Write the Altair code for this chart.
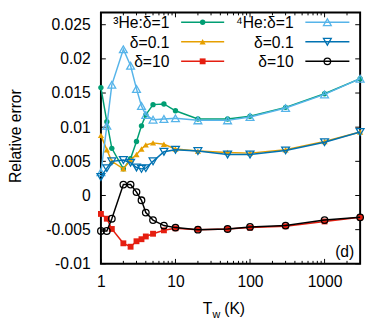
import altair as alt
import pandas as pd

# ---- data ----
T_w = [1, 1.2, 1.4, 2, 2.5, 3, 3.5, 4, 5, 7, 10, 20, 50, 100, 300, 1000, 3000]
he3_d1 = [0.0158, 0.0108, 0.0069, 0.0039, 0.0054, 0.0079, 0.0102, 0.0118, 0.0133, 0.0134,
          0.0124, 0.0112, 0.0112, 0.0116, 0.0129, 0.0149, 0.0171]
he3_d01 = [0.0088, 0.0067, 0.0050, 0.0039, 0.0052, 0.0060, 0.0068, 0.0074, 0.0077, 0.0075,
           0.0068, 0.0065, 0.0063, 0.0062, 0.0067, 0.0079, 0.0093]
he3_d10 = [-0.0027, -0.0034, -0.0049, -0.0070, -0.0075, -0.0067, -0.0064, -0.0060, -0.0056, -0.0051,
           -0.0048, -0.0050, -0.0049, -0.0047, -0.0045, -0.0038, -0.0032]
he4_d1 = [0.0034, 0.0102, 0.0162, 0.0214, 0.0190, 0.0156, 0.0131, 0.0118, 0.0111, 0.0112,
          0.0113, 0.0110, 0.0110, 0.0115, 0.0128, 0.0148, 0.0171]
he4_d01 = [0.0027, 0.0040, 0.0050, 0.0052, 0.0048, 0.0041, 0.0039, 0.0040, 0.0050, 0.0064,
           0.0067, 0.0065, 0.0060, 0.0060, 0.0066, 0.0078, 0.0093]
he4_d10 = [-0.0052, -0.0052, -0.0034, 0.0016, 0.0016, 0.0005, -0.0007, -0.0025, -0.0036, -0.0044,
           -0.0047, -0.0050, -0.0049, -0.0046, -0.0044, -0.0036, -0.0032]

legend_labels = ["\u00b3He:\u03b4=1", "\u03b4=0.1", "\u03b4=10",
                 "\u2074He:\u03b4=1", "\u03b4=0.1", "\u03b4=10"]
x_ticks = [1, 10, 100, 1000]
x_minor = [m * d for d in [1, 10, 100, 1000] for m in range(2, 10) if m * d < 3000]
y_ticks = [-0.01, -0.005, 0, 0.005, 0.01, 0.015, 0.02, 0.025]

FONT = "Liberation Sans"
W, H = 265, 257

series = [
    (he3_d1, "#009e73", "circle", True, 30),
    (he3_d01, "#e69f00", "triangle-up", True, 40),
    (he3_d10, "#e51e10", "square", True, 36),
    (he4_d1, "#56b4e9", "triangle-up", False, 64),
    (he4_d01, "#0072b2", "triangle-down", False, 64),
    (he4_d10, "black", "circle", False, 45),
]

xs = alt.Scale(type="log", domain=[1, 3000], nice=False)
ys = alt.Scale(domain=[-0.01, 0.0268], nice=False, zero=False)
xaxis = alt.Axis(values=x_ticks, title="", labelExpr="format(datum.value, '~g')",
                 ticks=False, domain=False, grid=False, labelFlush=False,
                 labelFont=FONT, labelFontSize=16, labelColor="black", labelPadding=10,
                 labelOverlap=False)
yaxis = alt.Axis(values=y_ticks, title="Relative error",
                 labelExpr="datum.value < 0 ? '-' + format(-datum.value, '~g') : format(datum.value, '~g')",
                 ticks=False, domain=False, grid=False,
                 labelFont=FONT, labelFontSize=16, labelColor="black", labelPadding=11,
                 titleFont=FONT, titleFontSize=16, titleFontWeight="normal", titleColor="black",
                 titleAngle=270, titleX=-82, titleY=126, titleAlign="center",
                 titleBaseline="alphabetic")

layers = []
# tick marks (inward, mirrored)
xt = pd.DataFrame({"T": x_ticks})
xm = pd.DataFrame({"T": x_minor})
yt = pd.DataFrame({"v": y_ticks})
X = lambda: alt.X("T:Q", scale=xs, axis=xaxis)
Y = lambda: alt.Y("v:Q", scale=ys, axis=yaxis)
for df, ln in [(xt, 5), (xm, 3)]:
    layers.append(alt.Chart(df).mark_rule(color="black", strokeWidth=1).encode(
        x=X(), y=alt.value(H), y2=alt.value(H - ln)))
    layers.append(alt.Chart(df).mark_rule(color="black", strokeWidth=1).encode(
        x=X(), y=alt.value(0), y2=alt.value(ln)))
layers.append(alt.Chart(yt).mark_rule(color="black", strokeWidth=1).encode(
    y=Y(), x=alt.value(0), x2=alt.value(5)))
layers.append(alt.Chart(yt).mark_rule(color="black", strokeWidth=1).encode(
    y=Y(), x=alt.value(W - 5), x2=alt.value(W)))

for vals, col, shape, filled, size in series:
    df = pd.DataFrame({"T": T_w, "v": vals})
    layers.append(alt.Chart(df).mark_line(color=col, strokeWidth=1.5).encode(x=X(), y=Y()))
    layers.append(alt.Chart(df).mark_point(shape=shape, filled=filled, color=col, size=size,
                                           strokeWidth=1.3, opacity=1).encode(x=X(), y=Y()))

# legend (two columns, label right-aligned, then line sample with marker)
one = pd.DataFrame({"a": [0]})
rows_y = [10, 30, 50]
cols = [(70, 82, 126), (197, 209, 254)]
for i, (vals, col, shape, filled, size) in enumerate(series):
    c = i // 3
    r = i % 3
    tx, l1, l2 = cols[c]
    yy = rows_y[r]
    layers.append(alt.Chart(one).mark_text(align="right", baseline="middle", font=FONT,
                                           fontSize=16, color="black").encode(
        x=alt.value(tx), y=alt.value(yy + 1), text=alt.value(legend_labels[i])))
    layers.append(alt.Chart(one).mark_rule(color=col, strokeWidth=1.5).encode(
        x=alt.value(l1), x2=alt.value(l2), y=alt.value(yy)))
    layers.append(alt.Chart(one).mark_point(shape=shape, filled=filled, color=col, size=size,
                                            strokeWidth=1.3, opacity=1).encode(
        x=alt.value((l1 + l2) / 2), y=alt.value(yy)))

# x axis title T_w (K) with subscript, and panel tag
layers.append(alt.Chart(one).mark_text(align="left", baseline="alphabetic", font=FONT,
                                       fontSize=16, color="black").encode(
    x=alt.value(104), y=alt.value(308), text=alt.value("T")))
layers.append(alt.Chart(one).mark_text(align="left", baseline="alphabetic", font=FONT,
                                       fontSize=11, color="black").encode(
    x=alt.value(114), y=alt.value(312), text=alt.value("w")))
layers.append(alt.Chart(one).mark_text(align="left", baseline="alphabetic", font=FONT,
                                       fontSize=16, color="black").encode(
    x=alt.value(126), y=alt.value(308), text=alt.value("(K)")))
layers.append(alt.Chart(one).mark_text(align="right", baseline="alphabetic", font=FONT,
                                       fontSize=16, color="black").encode(
    x=alt.value(259), y=alt.value(250), text=alt.value("(d)")))

chart = alt.layer(*layers).properties(
    width=W, height=H,
    padding={"left": 95, "top": 1, "right": 6, "bottom": 57},
    autosize=alt.AutoSizeParams(type="none"),
    background="white",
).configure_view(stroke="black", strokeWidth=2)

chart.save("out.html", embed_options={"renderer": "svg", "actions": False})
